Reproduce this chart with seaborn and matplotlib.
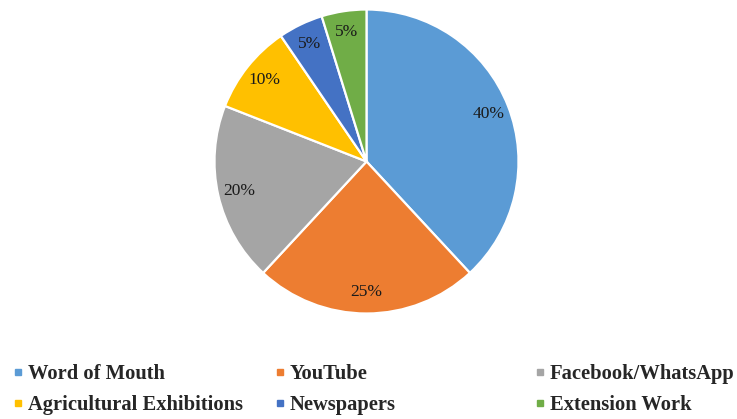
import matplotlib
matplotlib.use("Agg")
import matplotlib.pyplot as plt
import seaborn as sns
from matplotlib.lines import Line2D

categories = ["Word of Mouth", "YouTube", "Facebook/WhatsApp",
              "Agricultural Exhibitions", "Newspapers", "Extension Work"]
values = [40, 25, 20, 10, 5, 5]
colors = ["#5B9BD5", "#ED7D31", "#A5A5A5", "#FFC000", "#4472C4", "#70AD47"]

sns.set_theme(style="white")
plt.rcParams["font.family"] = ["Liberation Serif", "DejaVu Serif"]

W, H = 737, 419
fig = plt.figure(figsize=(W / 100, H / 100), dpi=100)

total = sum(values)
cx, cy, r = 366.5, 161.5, 152
ax = fig.add_axes([(cx - r) / W, (H - cy - r) / H, 2 * r / W, 2 * r / H])
wedges, texts, autotexts = ax.pie(
    values, colors=colors, startangle=90, counterclock=False,
    autopct=lambda p: f"{round(p * total / 100)}%", pctdistance=0.86,
    wedgeprops=dict(edgecolor="white", linewidth=1.6),
    textprops=dict(fontsize=12.5, color="#1a1a1a"),
)
ax.set_xlim(-1, 1)
ax.set_ylim(-1, 1)
ax.set_aspect("equal")
ax.axis("off")

handles = [Line2D([0], [0], marker="s", linestyle="none", markersize=4.3,
                  markerfacecolor=c, markeredgecolor=c) for c in colors]

col_x = [14, 276, 536]
for i in range(3):
    idx = [i, i + 3]
    fig.legend([handles[j] for j in idx], [categories[j] for j in idx],
               loc="center left", bbox_to_anchor=(col_x[i] / W, 1 - 389.5 / H),
               frameon=False, borderpad=0, borderaxespad=0,
               handlelength=0.38, handletextpad=0.28, labelspacing=0.52,
               prop=dict(family="Liberation Serif", weight="bold", size=14.8))

fig.savefig("out.png", dpi=100, facecolor="white")
